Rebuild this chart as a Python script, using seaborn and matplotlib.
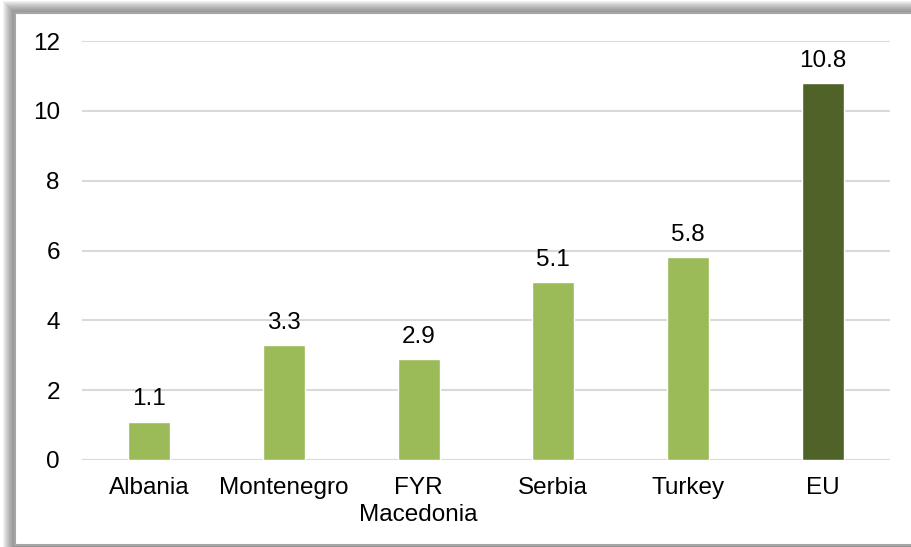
import matplotlib
matplotlib.use("Agg")
import matplotlib.pyplot as plt
import seaborn as sns
import pandas as pd
from matplotlib.patches import Rectangle

categories = ["Albania", "Montenegro", "FYR\nMacedonia", "Serbia", "Turkey", "EU"]
values = [1.1, 3.3, 2.9, 5.1, 5.8, 10.8]
labels = ["1.1", "3.3", "2.9", "5.1", "5.8", "10.8"]
yticks = [0, 2, 4, 6, 8, 10, 12]

light = "#9BBB59"
dark = "#4F6228"
colors = [light, light, light, light, light, dark]

sns.set_theme(style="white")
plt.rcParams["font.family"] = ["Liberation Sans", "DejaVu Sans"]

W, H = 912, 547
fig = plt.figure(figsize=(W / 100, H / 100), dpi=100)

# shadow on left/top (stacked translucent fills extending past right/bottom)
bx, by = 15, 13  # frame's left / top in pixels
for off in range(12, 0, -1):
    fig.patches.append(Rectangle(((bx - off) / W, -0.5), 2, 0.5 + (H - by + off) / H,
                                 transform=fig.transFigure, facecolor=(0.3, 0.3, 0.3, 0.07),
                                 edgecolor="none", zorder=0))
fig.patches.append(Rectangle((bx / W, 2.5 / H), 2, (H - by - 2.5) / H,
                             transform=fig.transFigure, facecolor="white",
                             edgecolor="#A6A6A6", linewidth=1.5, zorder=1))

ax = fig.add_axes([82 / W, 1 - 460 / H, (890 - 82) / W, (460 - 41) / H])
ax.set_zorder(2)
ax.patch.set_alpha(0)

df = pd.DataFrame({"cat": categories, "val": values})
sns.barplot(data=df, x="cat", y="val", hue="cat", palette=colors, legend=False,
            width=0.31, ax=ax, saturation=1)

ax.set_ylim(0, 12)
ax.set_xlim(-0.5, 5.5)
ax.set_yticks(yticks)
ax.set_yticklabels([str(t) for t in yticks])
ax.yaxis.grid(True, color="#D9D9D9", linewidth=1.5)
ax.set_axisbelow(True)
for s in ax.spines.values():
    s.set_visible(False)
ax.axhline(0, color="#D9D9D9", linewidth=1.5, zorder=0.5)
ax.tick_params(axis="both", length=0, labelsize=17.5, colors="black")
ax.tick_params(axis="y", pad=16)
ax.tick_params(axis="x", pad=12)
ax.set_xlabel("")
ax.set_ylabel("")
for t in ax.get_xticklabels():
    t.set_linespacing(1.3)

for i, (v, lab) in enumerate(zip(values, labels)):
    ax.annotate(lab, (i, v), xytext=(0, 8), textcoords="offset points",
                ha="center", va="bottom", fontsize=17.5, color="black")

fig.savefig("out.png", dpi=100)
